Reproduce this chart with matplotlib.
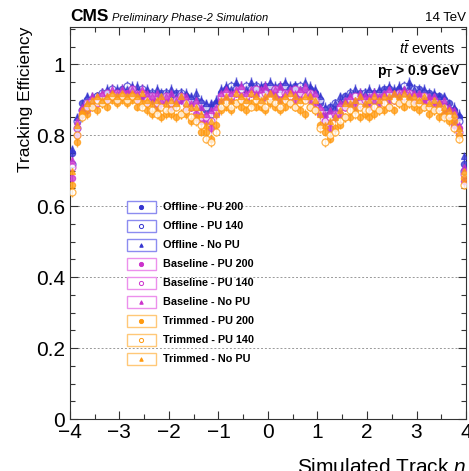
import numpy as np
import matplotlib.pyplot as plt
from matplotlib.patches import Rectangle

plt.rcParams['font.family'] = ['Liberation Sans', 'DejaVu Sans']
plt.rcParams['mathtext.fontset'] = 'custom'
plt.rcParams['mathtext.rm'] = 'Liberation Sans'
plt.rcParams['mathtext.it'] = 'Liberation Sans:italic'
plt.rcParams['mathtext.bf'] = 'Liberation Sans:bold'

# eta bin centres (80 bins of width 0.1)
eta = np.round(np.arange(-3.95, 4.0, 0.1), 2)

off_pu200 = [
    0.75, 0.82, 0.89, 0.88, 0.90, 0.91, 0.90, 0.92, 0.91, 0.92,
    0.93, 0.92, 0.93, 0.92, 0.91, 0.92, 0.90, 0.91, 0.92, 0.90,
    0.91, 0.92, 0.90, 0.91, 0.89, 0.90, 0.88, 0.87, 0.88, 0.89,
    0.92, 0.93, 0.92, 0.94, 0.93, 0.93, 0.94, 0.92, 0.93, 0.94,
    0.93, 0.92, 0.94, 0.93, 0.93, 0.94, 0.92, 0.93, 0.93, 0.92,
    0.89, 0.86, 0.88, 0.87, 0.89, 0.91, 0.90, 0.91, 0.92, 0.90,
    0.91, 0.92, 0.91, 0.93, 0.92, 0.91, 0.93, 0.92, 0.94, 0.92,
    0.93, 0.91, 0.92, 0.90, 0.91, 0.89, 0.89, 0.87, 0.85, 0.72]
off_pu140 = [
    0.72, 0.84, 0.87, 0.90, 0.89, 0.91, 0.92, 0.91, 0.93, 0.92,
    0.92, 0.94, 0.93, 0.92, 0.93, 0.91, 0.92, 0.91, 0.91, 0.92,
    0.90, 0.91, 0.92, 0.90, 0.90, 0.89, 0.89, 0.88, 0.86, 0.88,
    0.91, 0.92, 0.94, 0.93, 0.92, 0.94, 0.93, 0.94, 0.92, 0.93,
    0.94, 0.93, 0.92, 0.94, 0.93, 0.92, 0.94, 0.93, 0.92, 0.91,
    0.90, 0.87, 0.86, 0.89, 0.88, 0.90, 0.92, 0.91, 0.90, 0.92,
    0.92, 0.90, 0.92, 0.92, 0.93, 0.92, 0.92, 0.94, 0.92, 0.93,
    0.92, 0.92, 0.91, 0.91, 0.90, 0.90, 0.87, 0.86, 0.84, 0.70]
off_nopu = [
    0.76, 0.85, 0.88, 0.91, 0.91, 0.90, 0.92, 0.93, 0.92, 0.93,
    0.92, 0.93, 0.94, 0.94, 0.92, 0.93, 0.92, 0.93, 0.91, 0.92,
    0.93, 0.91, 0.92, 0.92, 0.91, 0.92, 0.90, 0.89, 0.89, 0.90,
    0.93, 0.94, 0.93, 0.95, 0.94, 0.93, 0.95, 0.94, 0.94, 0.93,
    0.95, 0.94, 0.93, 0.95, 0.94, 0.94, 0.93, 0.95, 0.94, 0.93,
    0.91, 0.88, 0.87, 0.89, 0.91, 0.90, 0.92, 0.93, 0.91, 0.92,
    0.93, 0.92, 0.93, 0.92, 0.94, 0.93, 0.94, 0.93, 0.95, 0.93,
    0.92, 0.93, 0.91, 0.92, 0.91, 0.91, 0.88, 0.88, 0.86, 0.74]

base_pu200 = [
    0.68, 0.80, 0.87, 0.87, 0.89, 0.89, 0.91, 0.90, 0.92, 0.90,
    0.91, 0.92, 0.91, 0.90, 0.91, 0.89, 0.90, 0.88, 0.89, 0.90,
    0.88, 0.89, 0.90, 0.87, 0.88, 0.86, 0.84, 0.84, 0.82, 0.86,
    0.90, 0.91, 0.90, 0.92, 0.91, 0.90, 0.92, 0.91, 0.90, 0.91,
    0.92, 0.91, 0.90, 0.91, 0.92, 0.90, 0.91, 0.92, 0.90, 0.89,
    0.86, 0.84, 0.82, 0.85, 0.86, 0.88, 0.89, 0.88, 0.90, 0.89,
    0.88, 0.90, 0.89, 0.91, 0.90, 0.91, 0.90, 0.92, 0.91, 0.90,
    0.91, 0.89, 0.90, 0.88, 0.89, 0.86, 0.87, 0.83, 0.82, 0.67]
base_pu140 = [
    0.71, 0.82, 0.86, 0.89, 0.90, 0.89, 0.91, 0.92, 0.91, 0.92,
    0.92, 0.91, 0.93, 0.91, 0.92, 0.90, 0.91, 0.89, 0.90, 0.91,
    0.89, 0.90, 0.91, 0.89, 0.88, 0.88, 0.85, 0.85, 0.84, 0.87,
    0.91, 0.92, 0.91, 0.92, 0.93, 0.91, 0.92, 0.93, 0.91, 0.92,
    0.91, 0.93, 0.92, 0.92, 0.91, 0.93, 0.92, 0.91, 0.92, 0.90,
    0.87, 0.84, 0.85, 0.86, 0.88, 0.88, 0.90, 0.91, 0.89, 0.90,
    0.90, 0.91, 0.90, 0.91, 0.92, 0.90, 0.92, 0.91, 0.92, 0.91,
    0.90, 0.91, 0.89, 0.90, 0.88, 0.88, 0.86, 0.85, 0.81, 0.69]
base_nopu = [
    0.73, 0.84, 0.88, 0.89, 0.91, 0.91, 0.92, 0.91, 0.93, 0.92,
    0.93, 0.92, 0.93, 0.92, 0.93, 0.92, 0.91, 0.92, 0.90, 0.91,
    0.92, 0.90, 0.91, 0.91, 0.89, 0.90, 0.88, 0.86, 0.87, 0.88,
    0.92, 0.93, 0.92, 0.93, 0.94, 0.92, 0.93, 0.92, 0.93, 0.94,
    0.92, 0.93, 0.94, 0.92, 0.93, 0.92, 0.93, 0.94, 0.92, 0.92,
    0.88, 0.86, 0.87, 0.86, 0.89, 0.90, 0.91, 0.90, 0.92, 0.91,
    0.91, 0.92, 0.91, 0.92, 0.93, 0.92, 0.92, 0.93, 0.92, 0.92,
    0.92, 0.90, 0.91, 0.91, 0.89, 0.90, 0.88, 0.87, 0.83, 0.71]

trim_pu200 = [
    0.66, 0.78, 0.86, 0.86, 0.88, 0.87, 0.89, 0.88, 0.90, 0.89,
    0.90, 0.89, 0.90, 0.88, 0.89, 0.87, 0.86, 0.87, 0.85, 0.86,
    0.86, 0.85, 0.86, 0.86, 0.84, 0.85, 0.81, 0.81, 0.79, 0.83,
    0.87, 0.88, 0.87, 0.89, 0.88, 0.87, 0.89, 0.88, 0.88, 0.87,
    0.89, 0.88, 0.87, 0.88, 0.89, 0.88, 0.87, 0.86, 0.88, 0.87,
    0.83, 0.81, 0.79, 0.82, 0.83, 0.85, 0.85, 0.87, 0.85, 0.86,
    0.85, 0.86, 0.87, 0.87, 0.88, 0.87, 0.89, 0.88, 0.89, 0.88,
    0.87, 0.88, 0.86, 0.87, 0.85, 0.86, 0.84, 0.84, 0.80, 0.68]
trim_pu140 = [
    0.64, 0.80, 0.85, 0.88, 0.88, 0.90, 0.89, 0.90, 0.91, 0.90,
    0.91, 0.90, 0.91, 0.90, 0.88, 0.89, 0.87, 0.86, 0.88, 0.87,
    0.87, 0.88, 0.86, 0.87, 0.85, 0.84, 0.83, 0.79, 0.78, 0.81,
    0.88, 0.89, 0.88, 0.89, 0.90, 0.89, 0.88, 0.90, 0.89, 0.88,
    0.90, 0.89, 0.88, 0.90, 0.89, 0.88, 0.89, 0.90, 0.88, 0.87,
    0.82, 0.78, 0.80, 0.81, 0.84, 0.85, 0.87, 0.86, 0.88, 0.87,
    0.87, 0.88, 0.87, 0.89, 0.88, 0.90, 0.89, 0.90, 0.89, 0.89,
    0.89, 0.88, 0.88, 0.87, 0.87, 0.85, 0.85, 0.82, 0.79, 0.66]
trim_nopu = [
    0.70, 0.83, 0.87, 0.89, 0.90, 0.91, 0.90, 0.91, 0.92, 0.91,
    0.92, 0.91, 0.92, 0.91, 0.92, 0.90, 0.89, 0.90, 0.91, 0.89,
    0.90, 0.89, 0.91, 0.89, 0.88, 0.88, 0.86, 0.83, 0.84, 0.86,
    0.90, 0.91, 0.90, 0.92, 0.91, 0.90, 0.92, 0.91, 0.90, 0.91,
    0.92, 0.91, 0.90, 0.91, 0.92, 0.91, 0.90, 0.91, 0.91, 0.90,
    0.86, 0.83, 0.84, 0.85, 0.87, 0.89, 0.89, 0.90, 0.91, 0.89,
    0.90, 0.91, 0.90, 0.91, 0.91, 0.92, 0.91, 0.92, 0.91, 0.91,
    0.90, 0.91, 0.89, 0.90, 0.89, 0.88, 0.87, 0.86, 0.82, 0.70]

labels = ["Offline - PU 200", "Offline - PU 140", "Offline - No PU",
          "Baseline - PU 200", "Baseline - PU 140", "Baseline - No PU",
          "Trimmed - PU 200", "Trimmed - PU 140", "Trimmed - No PU"]
series = [off_pu200, off_pu140, off_nopu,
          base_pu200, base_pu140, base_nopu,
          trim_pu200, trim_pu140, trim_nopu]
err = 0.013

colors = ["#3535d0"] * 3 + ["#cc33cc"] * 3 + ["#ff9a10"] * 3
box_colors = ["#8c8cf0"] * 3 + ["#ec90ec"] * 3 + ["#ffc878"] * 3
markers = ["o", "o", "^"] * 3
filled = [True, False, True] * 3
msize = [4.5, 5.0, 4.0] * 3

fig = plt.figure(figsize=(4.69, 4.71), dpi=100)
ax = fig.add_axes([0.149, 0.1104, 0.8447, 0.8323])

for y, c, m, f, ms in zip(series, colors, markers, filled, msize):
    ax.errorbar(eta, y, yerr=err, fmt=m, color=c, ms=ms, mew=0.9,
                mfc=c if f else "white", mec=c, elinewidth=1.0,
                capsize=0, alpha=0.75, zorder=3)

ax.set_xlim(-4, 4)
ax.set_ylim(0, 1.105)
ax.set_xticks(np.arange(-4, 4.1, 1))
ax.set_xticks(np.arange(-4, 4.1, 0.5), minor=True)
ax.set_yticks([0, 0.2, 0.4, 0.6, 0.8, 1.0])
ax.set_yticklabels(["0", "0.2", "0.4", "0.6", "0.8", "1"])
ax.set_yticks(np.arange(0, 1.11, 0.05), minor=True)
ax.set_xticklabels(["\u22124", "\u22123", "\u22122", "\u22121", "0", "1", "2", "3", "4"])
ax.tick_params(which="both", direction="in", top=True, right=True,
               labelsize=15, width=0.8, colors="#333333", labelcolor="black")
ax.tick_params(which="major", length=6)
ax.tick_params(which="minor", length=3.5)
ax.tick_params(axis="x", pad=3)
for sp in ax.spines.values():
    sp.set_linewidth(0.8)
    sp.set_color("#333333")

for yv in [0.2, 0.4, 0.6, 0.8, 1.0]:
    ax.axhline(yv, color="#999999", lw=0.7, ls=(0, (2, 2)), zorder=1)

ax.set_ylabel("Tracking Efficiency", fontsize=12.5, loc="top", labelpad=2)
ax.set_xlabel("Simulated Track $\\eta$", fontsize=15, loc="right", labelpad=10)

# header texts
fig.text(0.149, 0.955, "CMS", fontsize=12.5, fontweight="bold", va="baseline")
fig.text(0.238, 0.955, "Preliminary Phase-2 Simulation", fontsize=8, style="italic",
         va="baseline")
fig.text(0.993, 0.955, "14 TeV", fontsize=9.5, ha="right", va="baseline")
ax.text(0.975, 0.93, "$t\\bar{t}$ events", transform=ax.transAxes, fontsize=10.5,
        ha="right", va="baseline")
ax.text(0.985, 0.877, "$\\mathbf{p_{T}}$ > 0.9 GeV", transform=ax.transAxes,
        fontsize=10, fontweight="bold", ha="right", va="baseline")

# legend with boxed markers
x0, x1 = 0.144, 0.217
ytop, dy = 0.541, 0.0485
for i, (lab, c, bc, m, f) in enumerate(zip(labels, colors, box_colors, markers, filled)):
    yc = ytop - i * dy
    ax.add_patch(Rectangle((x0, yc - 0.015), x1 - x0, 0.03, transform=ax.transAxes,
                           fill=True, fc="white", ec=bc, lw=1.0, zorder=4))
    ax.plot((x0 + x1) / 2, yc, marker=m, ms=3 if m == "o" else 2.5,
            color=c, mfc=c if f else "white", mec=c, mew=0.7,
            transform=ax.transAxes, zorder=5)
    ax.text(x1 + 0.018, yc, lab, transform=ax.transAxes, fontsize=7.8,
            fontweight="bold", va="center", zorder=5)

fig.savefig("out.png", dpi=100)
